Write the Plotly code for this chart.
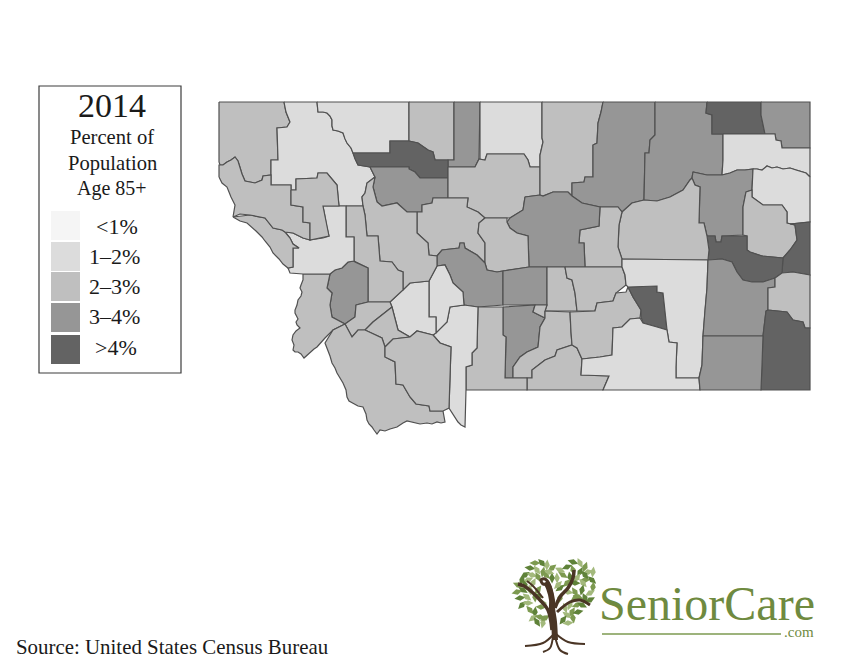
"""Montana counties, percent of population age 85+, 2014 (grey choropleth)."""
import plotly.graph_objects as go

# map is drawn in page pixels: x 0-850, y 672-0
BAND_COLORS = ["#f5f5f5", "#dcdcdc", "#bfbfbf", "#969696", "#636363"]
BAND_LABELS = ["<1%", "1\u20132%", "2\u20133%", "3\u20134%", ">4%"]

# ─── County outlines, band = index into BAND_COLORS ───

lincoln = [(219,102),(284,102),(286,112),(290,122),(287,127),(277,128),(278,160),(271,160),(271,175),(263,176),(262,180),(255,183),(250,182),(245,181),(242,174),(240,168),(238,161),(235,157),(231,160),(227,162),(223,165),(220,165),(219,162)]
flathead = [(284,102),(317,102),(318,112),(323,112),(327,113),(330,116),(332,120),(332,126),(333,130),(338,131),(343,133),(345,139),(347,143),(351,148),(353,153),(355,159),(358,165),(364,166),(370,167),(375,177),(367,183),(365,193),(362,197),(363,206),(339,206),(338,197),(337,185),(327,173),(318,173),(317,178),(296,179),(296,190),(291,190),(291,185),(271,185),(271,160),(278,160),(277,128),(287,127),(290,122),(286,112)]
glacier = [(317,102),(409,102),(409,141),(390,141),(390,153),(353,153),(351,148),(347,143),(345,139),(343,133),(338,131),(333,130),(332,126),(332,120),(330,116),(327,113),(323,112),(318,112)]
toole = [(409,102),(454,102),(454,160),(435,160),(433,152),(428,150),(418,143),(409,141)]
liberty = [(454,102),(480,102),(479,159),(475,167),(448,167),(448,160),(454,160)]
hill = [(480,102),(542,102),(542,138),(543,142),(540,155),(540,167),(530,167),(528,160),(524,154),(487,154),(485,160),(480,160)]
pondera = [(353,153),(390,153),(390,141),(409,141),(418,143),(428,150),(433,152),(435,160),(448,160),(448,178),(420,178),(415,172),(409,169),(409,167),(370,167),(364,166),(358,165),(355,159)]
teton = [(370,167),(409,167),(409,169),(415,172),(420,178),(448,178),(448,198),(433,198),(432,203),(422,205),(422,212),(407,212),(397,203),(382,206),(377,202),(373,187),(375,177)]
chouteau = [(448,167),(475,167),(479,159),(485,160),(487,154),(524,154),(528,160),(530,167),(540,167),(540,195),(525,197),(523,210),(510,218),(485,218),(478,212),(467,207),(468,198),(448,198)]
blaine = [(542,102),(603,102),(601,112),(598,123),(597,143),(593,145),(593,177),(585,177),(584,182),(572,183),(572,196),(568,192),(553,192),(543,196),(540,195),(540,155),(543,142),(542,138)]
phillips = [(603,102),(655,102),(655,135),(650,140),(649,153),(645,153),(644,200),(632,203),(622,212),(618,207),(600,207),(582,203),(572,196),(572,183),(584,182),(585,177),(593,177),(593,145),(597,143),(598,123),(601,112)]
valley = [(655,102),(707,102),(706,113),(712,115),(712,134),(723,134),(723,160),(722,175),(707,175),(693,172),(692,178),(690,180),(683,190),(670,197),(657,201),(644,200),(645,153),(649,153),(650,140),(655,135)]
daniels = [(707,102),(761,102),(761,115),(765,134),(712,134),(712,115),(706,113)]
sheridan = [(761,102),(810,102),(810,148),(782,148),(781,141),(776,140),(775,134),(765,134),(761,115)]
roosevelt = [(723,134),(775,134),(776,140),(781,141),(782,148),(810,148),(810,177),(806,173),(803,172),(796,170),(790,168),(783,169),(777,167),(772,168),(767,166),(765,168),(762,170),(757,169),(753,169),(745,170),(737,170),(730,173),(722,175),(723,160)]
mccone = [(693,172),(707,175),(722,175),(730,173),(737,170),(745,170),(753,169),(752,190),(746,192),(743,207),(743,235),(722,236),(721,242),(716,242),(715,236),(707,236),(704,223),(699,223),(700,187),(695,185),(692,178)]
richland = [(753,169),(757,169),(762,170),(765,168),(767,166),(772,168),(777,167),(783,169),(790,168),(796,170),(803,172),(806,173),(810,177),(810,222),(790,224),(787,223),(787,212),(782,205),(763,205),(752,197),(752,190)]
dawson = [(746,192),(752,190),(752,197),(763,205),(782,205),(787,212),(787,223),(790,224),(795,225),(797,240),(790,250),(783,258),(762,256),(750,252),(747,250),(747,236),(743,235),(743,207)]
wibaux = [(790,224),(810,222),(810,275),(793,272),(782,273),(783,258),(790,250),(797,240),(795,225)]
prairie = [(707,236),(715,236),(716,242),(721,242),(722,236),(747,236),(747,250),(750,252),(762,256),(783,258),(782,273),(775,278),(763,282),(752,282),(743,280),(737,272),(732,262),(722,259),(708,260),(709,250)]
garfield = [(622,212),(632,203),(644,200),(657,201),(670,197),(683,190),(690,180),(692,178),(695,185),(700,187),(699,223),(704,223),(707,236),(709,250),(708,260),(622,259),(618,247),(619,225)]
petroleum = [(600,207),(618,207),(622,212),(619,225),(618,247),(622,259),(622,267),(585,267),(584,243),(579,243),(580,230),(599,226)]
fergus = [(525,197),(540,195),(543,196),(553,192),(568,192),(572,196),(582,203),(600,207),(599,226),(580,230),(579,243),(584,243),(585,267),(547,267),(529,267),(528,236),(517,233),(510,228),(507,222),(510,218),(523,210)]
cascade = [(417,212),(422,212),(422,205),(432,203),(433,198),(468,198),(467,207),(478,212),(485,218),(479,223),(478,233),(485,243),(485,263),(477,255),(465,248),(464,243),(460,243),(459,248),(442,250),(437,256),(429,255),(428,243),(417,233)]
judith_basin = [(485,218),(507,218),(507,222),(510,228),(517,233),(528,236),(529,267),(503,271),(497,272),(487,270),(485,263),(485,243),(478,233),(479,223)]
meagher = [(437,256),(442,250),(459,248),(460,243),(464,243),(465,248),(477,255),(485,263),(487,270),(497,272),(503,271),(503,305),(478,307),(464,305),(463,292),(453,283),(450,275),(445,265),(437,266)]
wheatland = [(503,271),(529,267),(547,267),(547,305),(503,305)]
golden_valley = [(547,267),(565,267),(567,278),(572,280),(575,293),(577,311),(545,311),(547,305)]
musselshell = [(565,267),(622,267),(625,275),(626,285),(616,293),(613,301),(597,303),(595,311),(577,311),(575,293),(572,280),(567,278)]
sweet_grass = [(503,307),(535,305),(533,312),(545,318),(540,327),(538,347),(527,352),(520,357),(513,367),(513,378),(505,378),(506,337),(503,335)]
small_strip = [(535,305),(547,305),(545,311),(545,318),(533,312)]
stillwater = [(545,311),(570,312),(571,332),(572,345),(557,350),(555,356),(545,360),(532,370),(532,378),(513,378),(513,367),(520,357),(527,352),(538,347),(540,327),(545,318)]
carbon = [(545,360),(555,356),(557,350),(572,345),(577,348),(582,359),(581,375),(609,376),(603,390),(527,390),(527,378),(532,378),(532,370)]
yellowstone = [(570,312),(595,311),(597,303),(613,301),(616,293),(626,292),(628,287),(633,297),(641,310),(640,318),(630,319),(622,327),(613,328),(612,355),(600,357),(582,359),(577,348),(572,345),(571,332)]
treasure = [(628,287),(657,286),(657,292),(663,293),(665,310),(667,330),(657,327),(643,323),(641,317),(641,310),(633,297)]
rosebud = [(622,259),(708,260),(707,288),(705,310),(703,336),(702,365),(699,378),(676,378),(676,367),(677,343),(669,342),(667,330),(665,310),(663,293),(657,292),(657,286),(628,287),(626,285),(625,275),(622,267)]
big_horn = [(640,318),(643,323),(657,327),(667,330),(669,342),(677,343),(676,367),(676,378),(699,378),(700,390),(603,390),(609,376),(581,375),(582,359),(600,357),(612,355),(613,328),(622,327),(630,319)]
custer = [(708,260),(722,259),(732,262),(737,272),(743,280),(752,282),(763,282),(775,278),(775,287),(768,288),(768,310),(766,311),(763,336),(703,336),(705,310),(707,288)]
fallon = [(775,278),(782,273),(793,272),(810,275),(810,328),(805,328),(803,322),(793,320),(787,312),(768,310),(768,288),(775,287)]
carter = [(766,311),(768,310),(787,312),(793,320),(803,322),(805,328),(810,328),(810,390),(761,390),(762,365),(763,336)]
powder_river = [(703,336),(763,336),(762,365),(761,390),(700,390),(699,378),(702,365)]
park = [(478,307),(503,307),(503,335),(506,337),(505,378),(513,378),(527,378),(527,390),(466,390),(466,367),(472,365),(472,353),(477,348)]
gallatin = [(450,307),(464,305),(478,307),(477,348),(472,353),(472,365),(466,367),(466,390),(465,427),(461,425),(458,422),(455,417),(449,408),(451,347),(440,343),(433,335),(447,322)]
broadwater = [(429,281),(437,266),(445,265),(450,275),(453,283),(463,292),(464,305),(450,307),(447,322),(436,333),(436,317),(429,317)]
jefferson = [(390,302),(403,290),(410,283),(429,281),(429,317),(436,317),(436,333),(433,335),(417,331),(410,337),(398,330),(392,307)]
lewis_clark = [(363,206),(362,197),(365,193),(367,183),(375,177),(373,187),(377,202),(382,206),(397,203),(407,212),(417,212),(417,233),(428,243),(429,255),(437,256),(437,266),(429,281),(410,283),(403,290),(403,272),(398,270),(392,262),(380,261),(378,236),(367,236),(365,215)]
powell = [(346,206),(363,206),(365,215),(367,236),(378,236),(380,261),(392,262),(398,270),(403,272),(403,290),(390,302),(368,302),(368,268),(355,262),(354,261),(354,237),(346,237)]
granite = [(348,262),(354,261),(355,262),(368,268),(368,302),(356,305),(355,317),(345,324),(332,317),(330,305),(332,293),(327,288),(330,274),(335,270),(342,268)]
ravalli = [(303,274),(330,274),(327,288),(332,293),(330,305),(332,317),(345,324),(333,330),(325,338),(320,344),(317,347),(314,349),(310,353),(307,355),(304,358),(301,354),(298,352),(295,352),(293,350),(294,345),(292,340),(293,335),(296,331),(300,328),(297,325),(296,322),(298,319),(297,317),(295,313),(295,310),(297,305),(298,300),(301,296),(302,292),(300,288),(301,285),(303,280)]
missoula = [(285,232),(293,233),(303,238),(310,240),(323,238),(329,236),(327,228),(323,206),(346,206),(346,237),(354,237),(354,261),(348,262),(342,268),(335,270),(330,274),(303,274),(290,273),(288,268),(293,267),(293,248),(299,248),(293,244),(290,238)]
mineral = [(233,217),(250,215),(265,218),(273,228),(282,230),(285,232),(290,238),(293,244),(299,248),(293,248),(293,267),(288,268),(283,264),(279,259),(273,253),(270,247),(265,241),(262,237),(256,231),(251,227),(247,223),(240,221)]
sanders = [(219,177),(219,165),(223,165),(227,162),(231,160),(235,157),(238,161),(240,168),(242,174),(245,181),(250,182),(255,183),(262,180),(263,176),(271,175),(271,185),(291,185),(291,205),(303,207),(303,222),(310,223),(310,240),(303,238),(293,233),(285,232),(282,230),(273,228),(265,218),(250,215),(240,214),(233,217),(234,211),(235,205),(231,197),(227,187),(222,183)]
lake = [(291,190),(296,190),(296,179),(317,178),(318,173),(327,173),(337,185),(338,197),(339,206),(323,206),(325,217),(327,228),(329,236),(310,240),(310,223),(303,222),(303,207),(291,205)]
deer_lodge = [(356,305),(368,302),(390,302),(392,307),(373,322),(365,330),(358,330),(352,337),(345,324),(355,317)]
silver_bow = [(392,307),(398,330),(410,337),(393,339),(385,347),(382,338),(365,330),(373,322)]
beaverhead = [(345,324),(352,337),(358,330),(365,330),(382,338),(385,347),(385,357),(395,362),(396,384),(403,385),(410,397),(416,404),(429,406),(430,411),(443,411),(445,422),(441,423),(437,422),(432,424),(427,423),(420,424),(413,422),(407,421),(403,423),(397,427),(390,429),(385,431),(380,430),(377,434),(374,430),(372,427),(369,424),(367,420),(366,414),(363,407),(358,406),(352,403),(349,401),(347,397),(346,390),(343,383),(340,378),(337,373),(335,368),(332,363),(330,356),(328,350),(327,347),(325,343),(333,330)]
madison = [(385,347),(393,339),(410,337),(417,331),(433,335),(440,343),(451,347),(449,408),(445,410),(443,411),(430,411),(429,406),(416,404),(410,397),(403,385),(396,384),(395,362),(385,357)]

county_names = ["Lincoln","Flathead","Glacier","Toole","Liberty","Hill","Pondera","Teton","Chouteau","Blaine","Phillips","Valley","Daniels","Sheridan","Roosevelt","McCone","Richland","Dawson","Wibaux","Prairie","Garfield","Petroleum","Fergus","Cascade","Judith Basin","Meagher","Wheatland","Golden Valley","Musselshell","Sweet Grass","Strip","Stillwater","Carbon","Yellowstone","Treasure","Rosebud","Big Horn","Custer","Fallon","Carter","Powder River","Park","Gallatin","Broadwater","Jefferson","Lewis and Clark","Powell","Granite","Ravalli","Missoula","Mineral","Sanders","Lake","Deer Lodge","Silver Bow","Beaverhead","Madison"]
county_shapes = [lincoln,flathead,glacier,toole,liberty,hill,pondera,teton,chouteau,blaine,phillips,valley,daniels,sheridan,roosevelt,mccone,richland,dawson,wibaux,prairie,garfield,petroleum,fergus,cascade,judith_basin,meagher,wheatland,golden_valley,musselshell,sweet_grass,small_strip,stillwater,carbon,yellowstone,treasure,rosebud,big_horn,custer,fallon,carter,powder_river,park,gallatin,broadwater,jefferson,lewis_clark,powell,granite,ravalli,missoula,mineral,sanders,lake,deer_lodge,silver_bow,beaverhead,madison]
county_bands = [2,1,1,2,3,1,4,3,2,2,3,3,4,3,1,3,1,2,4,4,2,2,3,2,2,3,3,2,2,3,2,2,2,2,4,1,1,3,2,4,3,2,1,1,1,2,2,3,2,1,2,2,2,2,2,2,2]

# ─── Logo pieces ───

leaf_x = [535,542,547,552,530,537,543,525,532,538,522,528,518,525,533,517,523,530,538,520,527,535,522,528,530,535,533,540,537,543,545,573,580,585,567,560,573,580,588,563,570,577,585,592,557,567,575,583,593,560,568,575,582,590,578,585,570,577,582,565,572,578,567,573,563,568,546,552,558,541,585,593,575,538,544,560,590,549]
leaf_y = [563,563,565,568,568,570,572,575,575,577,580,580,585,585,583,592,590,590,590,598,597,597,605,603,610,612,618,617,622,623,618,562,563,567,567,570,570,572,572,575,577,578,580,580,578,583,583,583,587,588,592,592,590,593,597,598,605,605,605,608,612,612,615,618,620,623,575,578,585,607,575,572,598,596,604,598,600,572]
leaf_shade = ["#7d9a50","#5f8239","#a3b97c"]
trunk_paths = [
    ([555,554,552,552,549,546],[640,622,608,600,588,582]),
    ([552,548,540,532,524,518],[630,610,600,592,586,584]),
    ([552,552,550,545,541,543,547],[612,596,586,579,580,584,584]),
    ([555,560,568,573,574],[608,597,588,578,570]),
    ([557,570,580,590],[612,602,600,605]),
    ([543,533,527],[598,586,581]),
]
trunk_widths = [6, 3.5, 3, 3.5, 3, 2]
root_paths = [
    ([553,543,525],[635,643,646]),
    ([553,550,543],[636,648,652]),
    ([555,560,568],[636,650,654]),
    ([556,568,585],[634,642,644]),
]

fig = go.Figure()

for name, shape, band in zip(county_names, county_shapes, county_bands):
    fig.add_trace(go.Scatter(
        x=[p[0] for p in shape] + [shape[0][0]],
        y=[p[1] for p in shape] + [shape[0][1]],
        mode="lines", fill="toself", fillcolor=BAND_COLORS[band],
        line=dict(color="#505050", width=1.2),
        name=name, hovertemplate=f"{name}: {BAND_LABELS[band]}<extra></extra>",
    ))

# logo tree
fig.add_trace(go.Scatter(
    x=leaf_x, y=leaf_y, mode="markers", hoverinfo="skip",
    marker=dict(symbol="diamond-tall", size=8, line_width=0,
                color=[leaf_shade[i % 3] for i in range(len(leaf_x))],
                angle=[(i * 47) % 180 - 90 for i in range(len(leaf_x))]),
))
for (px_, py_), w in zip(trunk_paths, trunk_widths):
    fig.add_trace(go.Scatter(x=px_, y=py_, mode="lines", line=dict(color="#4a3525", width=w, shape="spline"), hoverinfo="skip"))
for px_, py_ in root_paths:
    fig.add_trace(go.Scatter(x=px_, y=py_, mode="lines", line=dict(color="#4a3525", width=2, shape="spline"), hoverinfo="skip"))

shapes = [dict(type="rect", x0=39, y0=86, x1=181, y1=373, line=dict(color="#3c3c3c", width=1.2), fillcolor="rgba(0,0,0,0)"),
          dict(type="line", x0=602, y0=634, x1=781, y1=634, line=dict(color="#7d9a50", width=1.6))]
swatch_tops = [211, 242, 272, 303, 335]
for top, color in zip(swatch_tops, BAND_COLORS):
    shapes.append(dict(type="rect", x0=51, x1=80, y0=top, y1=top + 29, fillcolor=color, line_width=0))

SERIF = "Liberation Serif"
def label(x, y, text, size, color="#1a1a1a", anchor="center"):
    return dict(x=x, y=y, text=text, showarrow=False, xanchor=anchor, yanchor="middle",
                font=dict(family=SERIF, size=size, color=color))

annotations = [
    label(112, 105, "2014", 34),
    label(112, 137, "Percent of", 20.6),
    label(112, 163, "Population", 20.6),
    label(112, 188, "Age 85+", 20),
    label(14, 647, "Source: United States Census Bureau", 20.9, anchor="left"),
    label(597, 603, "SeniorCare", 48, color="#6f8a3f", anchor="left"),
    label(816, 632, ".com", 15, color="#6f8a3f", anchor="right"),
]
for x, y, text in zip([117, 114, 114, 114, 116], [226, 256, 286, 316, 347], BAND_LABELS):
    annotations.append(label(x, y, text, 22))

fig.update_layout(
    width=850, height=672, margin=dict(l=0, r=0, t=0, b=0),
    plot_bgcolor="white", paper_bgcolor="white", showlegend=False,
    xaxis=dict(range=[0, 850], visible=False, fixedrange=True),
    yaxis=dict(range=[672, 0], visible=False, fixedrange=True),
    shapes=shapes, annotations=annotations,
)
fig.write_html("out.html", config={"displayModeBar": False},
               post_script="document.body.style.margin='0';document.documentElement.style.overflow='hidden';")
